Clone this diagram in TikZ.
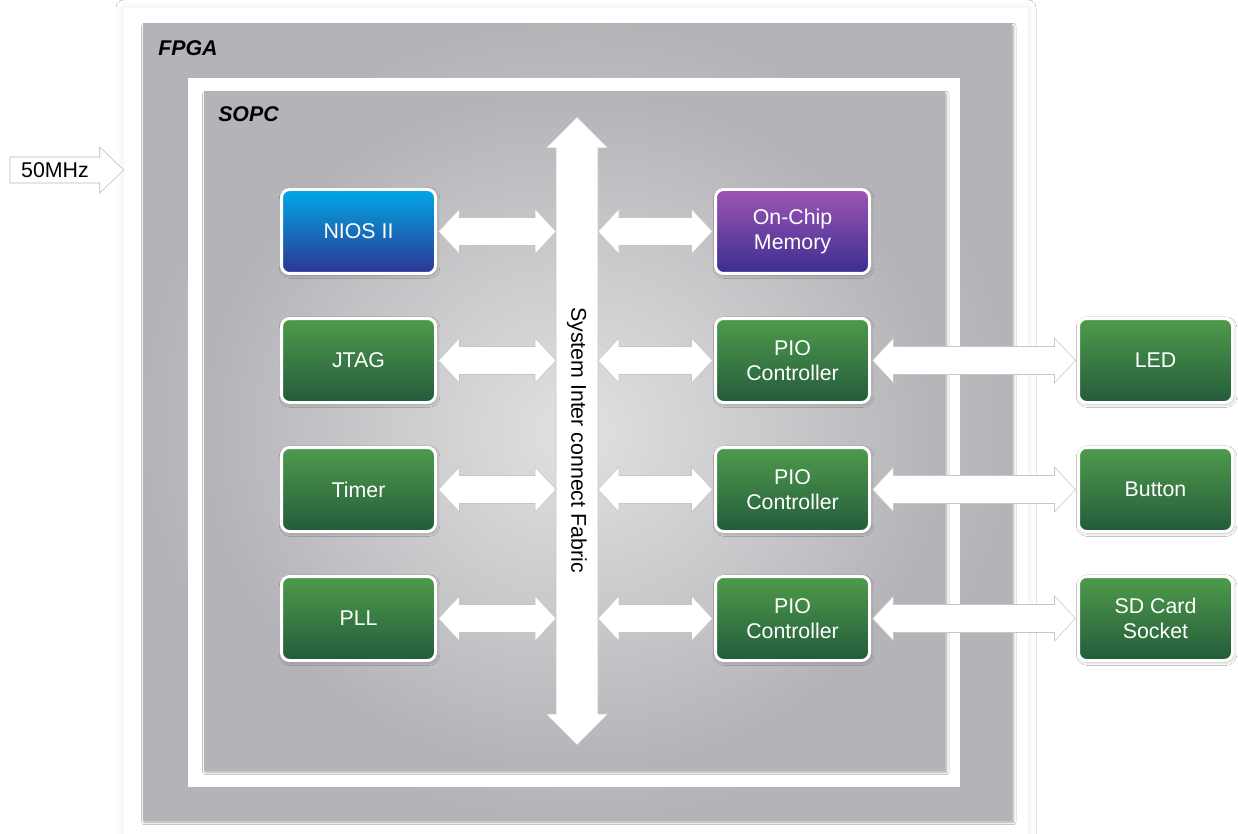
\documentclass[tikz,border=0pt]{standalone}
\usepackage{fontspec}
\setsansfont{Liberation Sans}
\usepackage{xcolor}
\usepackage{tikz}
\usetikzlibrary{shapes,arrows.meta,positioning,calc,fit,shadows,shadows.blur}

\definecolor{cpuTop}{HTML}{00A8E6}
\definecolor{cpuBot}{HTML}{2E3592}
\definecolor{memTop}{HTML}{9E55B5}
\definecolor{memBot}{HTML}{3A2E8F}
\definecolor{ioTop}{HTML}{4E9B4B}
\definecolor{ioBot}{HTML}{245B3B}
\definecolor{panelIn}{HTML}{E2E0E2}
\definecolor{panelOut}{HTML}{B4B4B8}

\begin{document}
\begin{tikzpicture}[
    x=0.75pt, y=-0.75pt,
    frame/.style={rectangle, fill=white, draw=none, inner sep=0pt},
    panel/.style={rectangle, inner sep=0pt, inner color=panelIn, outer color=panelOut, blur shadow={shadow xshift=1pt, shadow yshift=-1.5pt, shadow blur steps=6, shadow blur radius=2pt, shadow opacity=35}},
    paneltitle/.style={inner sep=0pt, anchor=west, font=\sffamily\bfseries\itshape\fontsize{16}{19}\selectfont},
    box/.style={rectangle, rounded corners=6pt, draw=white, line width=2.25pt, minimum width=115.5pt, minimum height=63pt, outer sep=2.25pt, align=center, text=white, font=\sffamily\fontsize{16}{19}\selectfont, blur shadow={shadow xshift=0.8pt, shadow yshift=-1.2pt, shadow blur steps=6, shadow blur radius=2.5pt, shadow opacity=30}},
    cpu/.style={box, top color=cpuTop, bottom color=cpuBot},
    memory/.style={box, top color=memTop, bottom color=memBot},
    io/.style={box, top color=ioTop, bottom color=ioBot},
    fabrictext/.style={inner sep=0pt, font=\sffamily\fontsize{16}{19}\selectfont},
    clocktext/.style={inner sep=0pt, font=\sffamily\fontsize{16}{19}\selectfont},
    link/.style={draw=gray!45, fill=white, line width=0.4pt, to path={let \p1=(\tikztostart), \p2=(\tikztotarget) in
        (\x1,\y1) -- (\x1+15.75pt,\y1+16.9pt) -- (\x1+15.75pt,\y1+10.5pt) -- (\x2-15.75pt,\y1+10.5pt) -- (\x2-15.75pt,\y1+16.9pt)
        -- (\x2,\y1) -- (\x2-15.75pt,\y1-16.9pt) -- (\x2-15.75pt,\y1-10.5pt) -- (\x1+15.75pt,\y1-10.5pt) -- (\x1+15.75pt,\y1-16.9pt) -- cycle}},
    fabric/.style={draw=gray!45, fill=white, line width=0.4pt, to path={let \p1=(\tikztostart), \p2=(\tikztotarget) in
        (\x1,\y1) -- (\x1+23.25pt,\y1-23.25pt) -- (\x1+15.75pt,\y1-23.25pt) -- (\x1+15.75pt,\y2+23.25pt) -- (\x1+23.25pt,\y2+23.25pt)
        -- (\x1,\y2) -- (\x1-23.25pt,\y2+23.25pt) -- (\x1-15.75pt,\y2+23.25pt) -- (\x1-15.75pt,\y1-23.25pt) -- (\x1-23.25pt,\y1-23.25pt) -- cycle}},
    clock/.style={draw=gray!55, fill=white, line width=0.4pt, to path={let \p1=(\tikztostart), \p2=(\tikztotarget) in
        (\x1,\y1+9.75pt) -- (\x2-18pt,\y1+9.75pt) -- (\x2-18pt,\y1+17.25pt) -- (\x2,\y1)
        -- (\x2-18pt,\y1-17.25pt) -- (\x2-18pt,\y1-9.75pt) -- (\x1,\y1-9.75pt) -- cycle}}
]
    \useasboundingbox [fill=white] (0,0) rectangle (1238,834);

    % nested frames
    \node [frame, fit={(124,8) (1028,834)}, blur shadow={shadow xshift=0pt, shadow yshift=0pt, shadow blur steps=10, shadow blur radius=6pt, shadow opacity=7}] (board) {};
    \node [panel, fit={(143,24) (1012,820)}] (fpga) {};
    \node [frame, fit={(188,78) (960,787)}] (sopcframe) {};
    \node [panel, fit={(204,92) (945,770)}] (sopc) {};
    \node [paneltitle] (fpgatitle) at (158,48) {FPGA};
    \node [paneltitle] (sopctitle) at (218,114) {SOPC};

    % clock input
    \coordinate (clkin) at (10,170);
    \draw [clock] (clkin) to (clkin -| board.west);
    \node [clocktext] (clk) at (55,170) {50MHz};

    % interconnect fabric
    \coordinate (fabricN) at (577,117);
    \coordinate (fabricS) at (577,745);
    \coordinate (fabricW) at (556,431);
    \coordinate (fabricE) at (598,431);
    \draw [fabric] (fabricN) to (fabricS);
    \node [fabrictext, rotate=-90] (fabriclabel) at (577,440) {System Inter connect Fabric};

    % masters and peripherals
    \node [cpu] (nios) at (358.5,231.5) {NIOS II};
    \node [io, below=29.25pt of nios] (jtag) {JTAG};
    \node [io, below=29.25pt of jtag] (timer) {Timer};
    \node [io, below=29.25pt of timer] (pll) {PLL};

    \node [memory, right=205.5pt of nios] (mem) {On-Chip\\Memory};
    \node [io, right=205.5pt of jtag] (pioled) {PIO\\Controller};
    \node [io, right=205.5pt of timer] (piobtn) {PIO\\Controller};
    \node [io, right=205.5pt of pll] (piosd) {PIO\\Controller};

    \node [io, right=152.25pt of pioled] (led) {LED};
    \node [io, right=152.25pt of piobtn] (button) {Button};
    \node [io, right=152.25pt of piosd] (sdcard) {SD Card\\Socket};

    \draw [link] (nios.east) to (nios.east -| fabricW);
    \draw [link] (jtag.east) to (jtag.east -| fabricW);
    \draw [link] (timer.east) to (timer.east -| fabricW);
    \draw [link] (pll.east) to (pll.east -| fabricW);

    \draw [link] (fabricE |- mem.west) to (mem.west);
    \draw [link] (fabricE |- pioled.west) to (pioled.west);
    \draw [link] (fabricE |- piobtn.west) to (piobtn.west);
    \draw [link] (fabricE |- piosd.west) to (piosd.west);

    \draw [link] (pioled.east) to (led.west);
    \draw [link] (piobtn.east) to (button.west);
    \draw [link] (piosd.east) to (sdcard.west);
\end{tikzpicture}
\end{document}
